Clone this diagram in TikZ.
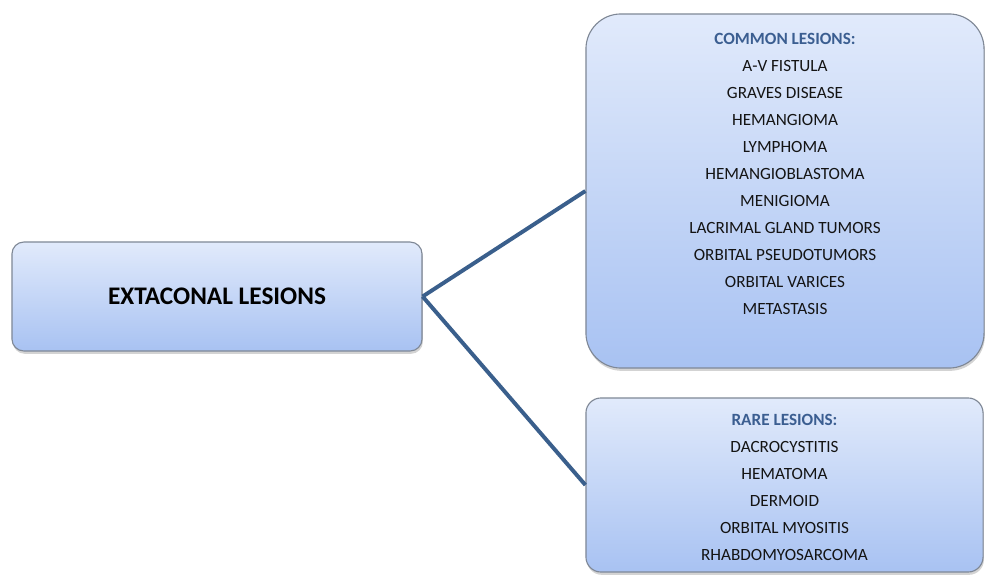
\documentclass[tikz,border=0pt]{standalone}
\usepackage{fontspec}
\setmainfont{Carlito}
\usetikzlibrary{shadows}
\definecolor{boxtop}{HTML}{E1EAFB}
\definecolor{boxbot}{HTML}{A8C2F2}
\definecolor{boxrim}{HTML}{7F8896}
\definecolor{linkblue}{HTML}{3A5F8C}
\definecolor{headblue}{HTML}{3B5E91}
\tikzset{
    lesionbox/.style={draw=boxrim,line width=0.8pt,top color=boxtop,bottom color=boxbot,
        drop shadow={shadow xshift=0.6pt,shadow yshift=-2pt,opacity=0.35}},
    listtext/.style={align=center,text=black!92,font=\fontsize{12.2}{19.2}\selectfont},
    link/.style={linkblue,line width=2.8pt}
}

\begin{document}
\begin{tikzpicture}[x=0.025cm,y=-0.025cm]
    \useasboundingbox (0,0) rectangle (986,577);
    \node[lesionbox,rounded corners=0.3cm,minimum width=10.25cm,minimum height=2.725cm] (extra) at (217,296.5)
        {\fontsize{18}{21}\selectfont\bfseries EXTACONAL LESIONS};
    \node[lesionbox,rounded corners=0.875cm,minimum width=9.95cm,minimum height=8.85cm] (common) at (785,191) {};
    \node[lesionbox,rounded corners=0.375cm,minimum width=9.925cm,minimum height=4.35cm] (rare) at (784.5,485) {};
    \draw[link] (extra.east) -- (common.west);
    \draw[link] (extra.east) -- (rare.west);
    \node[listtext,anchor=north] (commonlist) at (785,28.5) {%
        \textcolor{headblue}{\bfseries COMMON LESIONS:}\\
        A-V FISTULA\\ GRAVES DISEASE\\ HEMANGIOMA\\ LYMPHOMA\\ HEMANGIOBLASTOMA\\
        MENIGIOMA\\ LACRIMAL GLAND TUMORS\\ ORBITAL PSEUDOTUMORS\\ ORBITAL VARICES\\ METASTASIS};
    \node[listtext] (rarelist) at (784.5,487) {%
        \textcolor{headblue}{\bfseries RARE LESIONS:}\\
        DACROCYSTITIS\\ HEMATOMA\\ DERMOID\\ ORBITAL MYOSITIS\\ RHABDOMYOSARCOMA};
\end{tikzpicture}
\end{document}
